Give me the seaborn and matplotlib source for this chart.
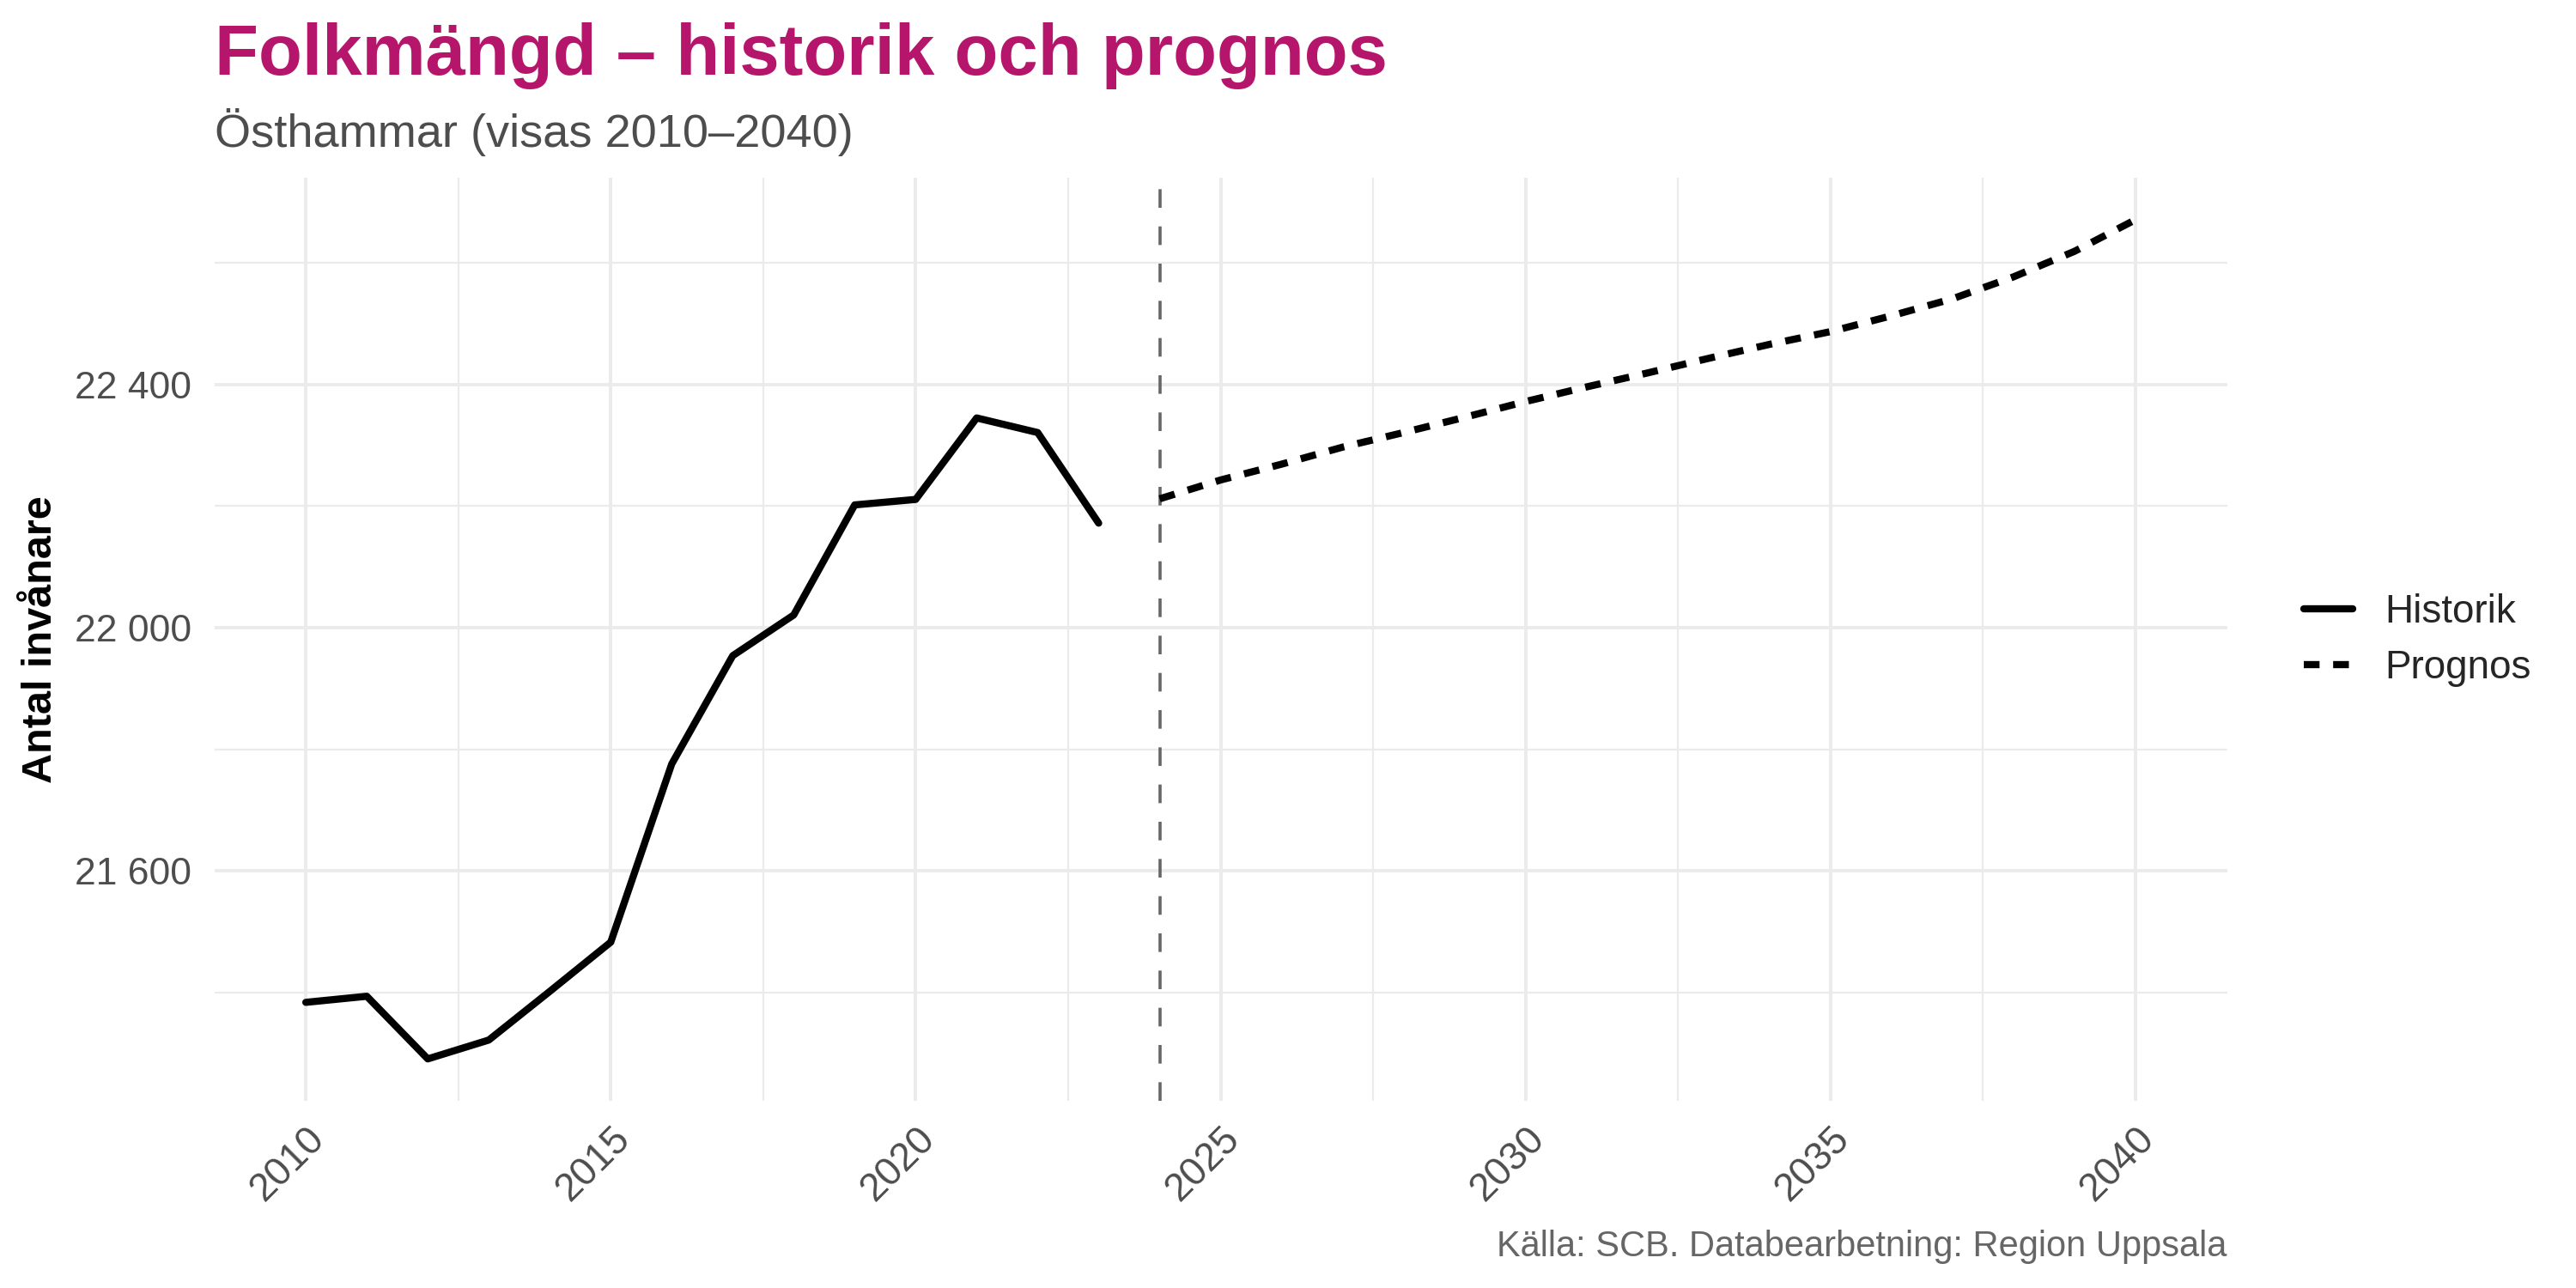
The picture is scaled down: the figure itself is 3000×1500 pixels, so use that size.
import pandas as pd
import seaborn as sns
import matplotlib.pyplot as plt
from matplotlib.ticker import MultipleLocator, FuncFormatter

# Folkmängd Östhammar
hist_years = list(range(2010, 2024))
hist_values = [21384, 21394, 21291, 21322, 21402, 21483, 21776, 21954,
               22021, 22202, 22211, 22345, 22321, 22172]
prog_years = list(range(2024, 2041))
prog_values = [22212, 22243, 22269, 22297, 22321, 22346, 22372, 22396, 22419,
               22443, 22466, 22487, 22513, 22541, 22577, 22619, 22671]
series_names = ["Historik", "Prognos"]
prognos_start = 2024

df = pd.concat([
    pd.DataFrame({"År": hist_years, "Folkmängd": hist_values, "Typ": series_names[0]}),
    pd.DataFrame({"År": prog_years, "Folkmängd": prog_values, "Typ": series_names[1]}),
], ignore_index=True)

sns.set_style("white")
plt.rcParams["font.family"] = ["Liberation Sans", "DejaVu Sans"]

fig = plt.figure(figsize=(15, 7.5), dpi=200)
ax = fig.add_axes([0.0832, 0.1453, 0.7813, 0.7167])

sns.lineplot(data=df, x="År", y="Folkmängd", style="Typ",
             dashes={"Historik": "", "Prognos": (2.2, 1.9)},
             color="black", linewidth=3.0, ax=ax)
ax.axvline(prognos_start, color="#666666", linestyle=(0, (6, 6)), linewidth=1.3, zorder=1)

ax.margins(x=0.05, y=0.05)
ax.xaxis.set_major_locator(MultipleLocator(5))
ax.xaxis.set_minor_locator(MultipleLocator(2.5))
ax.yaxis.set_major_locator(MultipleLocator(400))
ax.yaxis.set_minor_locator(MultipleLocator(200))
ax.yaxis.set_major_formatter(FuncFormatter(lambda v, p: f"{v:,.0f}".replace(",", " ")))
ax.xaxis.set_major_formatter(FuncFormatter(lambda v, p: f"{v:.0f}"))

ax.grid(which="major", color="#EBEBEB", linewidth=1.4)
ax.grid(which="minor", color="#EBEBEB", linewidth=0.8)
ax.set_axisbelow(True)
for s in ax.spines.values():
    s.set_visible(False)

ax.tick_params(which="both", length=0)
ax.tick_params(axis="y", labelsize=16, labelcolor="#4D4D4D", pad=9.5)
ax.tick_params(axis="x", labelsize=16.5, labelcolor="#4D4D4D", pad=8, labelrotation=45)
plt.setp(ax.get_xticklabels(), ha="right", rotation_mode="anchor")

ax.set_xlabel("")
ax.set_ylabel("Antal invånare", fontsize=17.5, fontweight="bold", color="black")
ax.yaxis.label.set_va("center")
ax.yaxis.set_label_coords(-0.0864, 0.5)

handles, labels = ax.get_legend_handles_labels()
if ax.get_legend() is not None:
    ax.get_legend().remove()
fig.legend(handles, labels, loc="center left", bbox_to_anchor=(0.8943, 0.503),
           bbox_transform=fig.transFigure, frameon=False, fontsize=16.5,
           handlelength=1.25, handletextpad=0.8, labelspacing=0.45,
           borderpad=0, borderaxespad=0)

fig.text(0.0832, 0.942, "Folkmängd – historik och prognos", fontsize=30,
         fontweight="bold", color="#B5166B", ha="left", va="baseline")
fig.text(0.0832, 0.886, "Östhammar (visas 2010–2040)", fontsize=19.5,
         color="#4D4D4D", ha="left", va="baseline")
fig.text(0.8645, 0.0247, "Källa: SCB. Databearbetning: Region Uppsala", fontsize=15,
         color="#666666", ha="right", va="baseline")

fig.savefig("out.png", dpi=200)
